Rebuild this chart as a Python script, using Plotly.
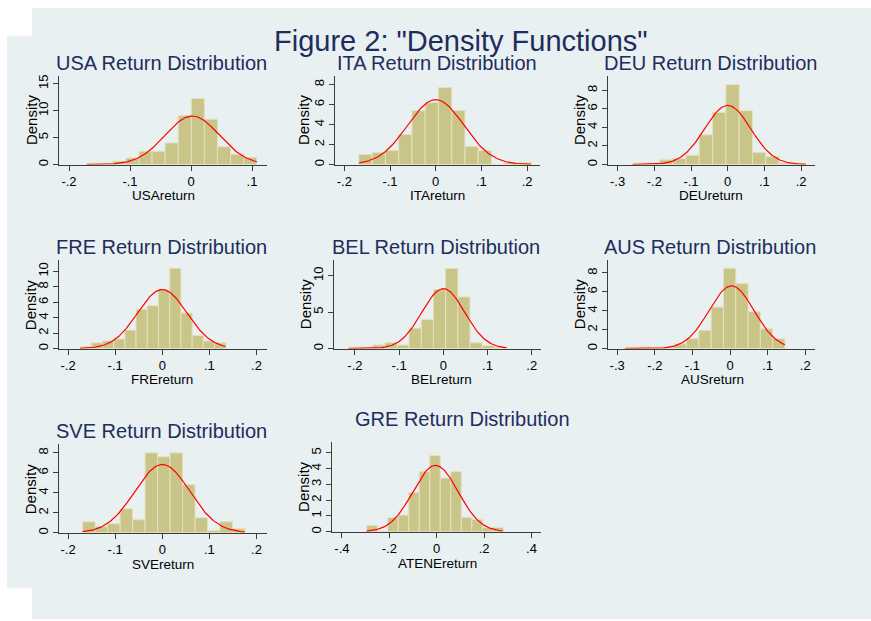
import numpy as np
import plotly.graph_objects as go

# ---------------- data ----------------
usa_heights = [0.25, 0.25, 0.6, 1.2, 2.45, 2.45, 4.0, 9.1, 12.25, 8.4, 3.3, 1.9, 1.35]
usa_bin_start, usa_bin_width = -0.171, 0.02144
usa_mean, usa_sd, usa_lo, usa_hi = 0.002, 0.0443, -0.171, 0.108

ita_heights = [1.0, 1.2, 1.4, 3.0, 5.4, 6.2, 7.7, 5.4, 1.8, 1.4, 0.0, 0.2, 0.2]
ita_bin_start, ita_bin_width = -0.168, 0.0290
ita_mean, ita_sd, ita_lo, ita_hi = 0.0, 0.0614, -0.168, 0.209

deu_heights = [0.15, 0.15, 0.5, 0.65, 1.0, 3.2, 5.6, 8.6, 5.8, 1.3, 0.85, 0.15, 0.15]
deu_bin_start, deu_bin_width = -0.259, 0.0363
deu_mean, deu_sd, deu_lo, deu_hi = 0.0, 0.0627, -0.259, 0.213

fre_heights = [0.23, 0.75, 1.0, 1.25, 2.4, 5.1, 5.55, 7.6, 10.4, 4.6, 1.7, 1.0, 0.75]
fre_bin_start, fre_bin_width = -0.1747, 0.0238
fre_mean, fre_sd, fre_lo, fre_hi = 0.0, 0.0522, -0.1747, 0.1347

bel_heights = [0.2, 0.2, 0.5, 0.8, 0.5, 2.8, 4.0, 8.1, 11.0, 7.1, 0.8, 0.4, 0.2]
bel_bin_start, bel_bin_width = -0.215, 0.02754
bel_mean, bel_sd, bel_lo, bel_hi = 0.0, 0.0485, -0.215, 0.143

aus_heights = [0.15, 0.15, 0.0, 0.15, 0.5, 1.05, 1.93, 4.4, 8.5, 6.9, 3.9, 2.1, 1.05]
aus_bin_start, aus_bin_width = -0.279, 0.0327
aus_mean, aus_sd, aus_lo, aus_hi = 0.004, 0.0602, -0.279, 0.146

sve_heights = [1.1, 0.6, 0.9, 2.4, 1.3, 8.0, 7.6, 8.0, 4.8, 1.5, 0.2, 1.1, 0.4]
sve_bin_start, sve_bin_width = -0.169, 0.0265
sve_mean, sve_sd, sve_lo, sve_hi = 0.0, 0.0584, -0.169, 0.175

gre_heights = [0.4, 0.0, 0.9, 1.05, 2.48, 3.8, 4.83, 3.4, 3.8, 0.9, 0.78, 0.27, 0.27]
gre_bin_start, gre_bin_width = -0.295, 0.0443
gre_mean, gre_sd, gre_lo, gre_hi = -0.005, 0.095, -0.295, 0.28

titles = ["USA Return Distribution", "ITA Return Distribution", "DEU Return Distribution",
          "FRE Return Distribution", "BEL Return Distribution", "AUS Return Distribution",
          "SVE Return Distribution", "GRE Return Distribution"]
xtitles = ["USAreturn", "ITAreturn", "DEUreturn", "FREreturn", "BELreturn", "AUSreturn",
           "SVEreturn", "ATENEreturn"]

xt_usa = [-0.2, -0.1, 0, 0.1]
xl_usa = ["-.2", "-.1", "0", ".1"]
xt_std = [-0.2, -0.1, 0, 0.1, 0.2]
xl_std = ["-.2", "-.1", "0", ".1", ".2"]
xt_wide = [-0.3, -0.2, -0.1, 0, 0.1, 0.2]
xl_wide = ["-.3", "-.2", "-.1", "0", ".1", ".2"]
xt_gre = [-0.4, -0.2, 0, 0.2, 0.4]
xl_gre = ["-.4", "-.2", "0", ".2", ".4"]

yt_usa = [0, 5, 10, 15]
yt_8 = [0, 2, 4, 6, 8]
yt_fre = [0, 2, 4, 6, 8, 10]
yt_bel = [0, 5, 10]
yt_gre = [0, 1, 2, 3, 4, 5]

main_title = 'Figure 2: "Density Functions"'

# ---------------- layout helpers ----------------
W, H = 871, 621
FONT = "Liberation Sans, Arial, sans-serif"
TITLE_COLOR = "#1e2d5c"
BAR_COLOR = "#c9c589"
BAR_LINE = "#e4e1bd"
BG = "#e8f0f2"


def px(x):
    return x / W


def py(y):
    return 1 - y / H


# position info per panel: plot-area pixels (left, right, top, bottom),
# title centre, Density label x, x-title centre
panels = [
    dict(h=usa_heights, b0=usa_bin_start, bw=usa_bin_width, m=usa_mean, s=usa_sd, lo=usa_lo, hi=usa_hi,
         box=(59, 267, 75, 164.3), x0px=191, ppu=610, xt=xt_usa, xl=xl_usa, yt=yt_usa, ymax=16.5,
         tc=(161, 62), dx=31, xtc=163),
    dict(h=ita_heights, b0=ita_bin_start, bw=ita_bin_width, m=ita_mean, s=ita_sd, lo=ita_lo, hi=ita_hi,
         box=(335, 540, 75, 164.3), x0px=435.7, ppu=457, xt=xt_std, xl=xl_std, yt=yt_8, ymax=8.9,
         tc=(437.5, 62), dx=303, xtc=437.5),
    dict(h=deu_heights, b0=deu_bin_start, bw=deu_bin_width, m=deu_mean, s=deu_sd, lo=deu_lo, hi=deu_hi,
         box=(608.3, 815, 75, 164.3), x0px=727.7, ppu=367, xt=xt_wide, xl=xl_wide, yt=yt_8, ymax=9.57,
         tc=(710, 62), dx=579, xtc=711),
    dict(h=fre_heights, b0=fre_bin_start, bw=fre_bin_width, m=fre_mean, s=fre_sd, lo=fre_lo, hi=fre_hi,
         box=(59.3, 266.7, 260, 349.3), x0px=162.3, ppu=471, xt=xt_std, xl=xl_std, yt=yt_fre, ymax=11.5,
         tc=(161, 247), dx=30, xtc=162),
    dict(h=bel_heights, b0=bel_bin_start, bw=bel_bin_width, m=bel_mean, s=bel_sd, lo=bel_lo, hi=bel_hi,
         box=(334, 540.7, 260, 349.3), x0px=443.3, ppu=442, xt=xt_std, xl=xl_std, yt=yt_bel, ymax=12.2,
         tc=(436, 247), dx=305, xtc=441),
    dict(h=aus_heights, b0=aus_bin_start, bw=aus_bin_width, m=aus_mean, s=aus_sd, lo=aus_lo, hi=aus_hi,
         box=(608.3, 815, 260, 349.3), x0px=730, ppu=376, xt=xt_wide, xl=xl_wide, yt=yt_8, ymax=9.4,
         tc=(710, 247), dx=579, xtc=712),
    dict(h=sve_heights, b0=sve_bin_start, bw=sve_bin_width, m=sve_mean, s=sve_sd, lo=sve_lo, hi=sve_hi,
         box=(59.3, 266.7, 445, 534.3), x0px=162.3, ppu=471, xt=xt_std, xl=xl_std, yt=yt_8, ymax=8.9,
         tc=(161, 432), dx=30, xtc=163),
    dict(h=gre_heights, b0=gre_bin_start, bw=gre_bin_width, m=gre_mean, s=gre_sd, lo=gre_lo, hi=gre_hi,
         box=(332.3, 540.7, 443.3, 533.3), x0px=436.7, ppu=237, xt=xt_gre, xl=xl_gre, yt=yt_gre, ymax=5.67,
         tc=(462, 420), dx=304, xtc=437),
]

fig = go.Figure()
annotations = []
layout_axes = {}

for i, p in enumerate(panels, start=1):
    xa = "x" if i == 1 else f"x{i}"
    ya = "y" if i == 1 else f"y{i}"
    n = len(p["h"])
    centers = [p["b0"] + (k + 0.5) * p["bw"] for k in range(n)]
    fig.add_trace(go.Bar(x=centers, y=p["h"], width=[p["bw"]] * n, xaxis=xa, yaxis=ya,
                         marker=dict(color=BAR_COLOR, line=dict(color=BAR_LINE, width=1)),
                         showlegend=False, hoverinfo="x+y"))
    xs = np.linspace(p["lo"], p["hi"], 200)
    ys = np.exp(-0.5 * ((xs - p["m"]) / p["s"]) ** 2) / (p["s"] * np.sqrt(2 * np.pi))
    fig.add_trace(go.Scatter(x=xs, y=ys, mode="lines", xaxis=xa, yaxis=ya,
                             line=dict(color="#ff0000", width=1.2), showlegend=False,
                             hoverinfo="skip"))

    l, r, t, b = p["box"]
    xmin = -(p["x0px"] - l) / p["ppu"]
    xmax = (r - p["x0px"]) / p["ppu"]
    xkey = "xaxis" if i == 1 else f"xaxis{i}"
    ykey = "yaxis" if i == 1 else f"yaxis{i}"
    layout_axes[xkey] = dict(domain=[px(l), px(r)], range=[xmin, xmax], anchor=ya,
                             tickvals=p["xt"], ticktext=p["xl"], showgrid=False, zeroline=False,
                             showline=True, linecolor="#3c3c3c", linewidth=1,
                             ticks="outside", ticklen=5, tickcolor="#3c3c3c",
                             tickfont=dict(family=FONT, size=13, color="#000000"),
                             fixedrange=True)
    layout_axes[ykey] = dict(domain=[py(b), py(t)], range=[0, p["ymax"]], anchor=xa,
                             tickvals=p["yt"], ticktext=[str(v) for v in p["yt"]],
                             tickangle=-90, showgrid=True, gridcolor="#e6eef0", gridwidth=1,
                             zeroline=False, showline=True, linecolor="#3c3c3c", linewidth=1,
                             ticks="outside", ticklen=5, tickcolor="#3c3c3c",
                             tickfont=dict(family=FONT, size=13, color="#000000"),
                             fixedrange=True)

    annotations.append(dict(text=titles[i - 1], x=px(p["tc"][0]), y=py(p["tc"][1]),
                            xref="paper", yref="paper", showarrow=False,
                            xanchor="center", yanchor="middle",
                            font=dict(family=FONT, size=20, color=TITLE_COLOR)))
    annotations.append(dict(text="Density", x=px(p["dx"]), y=py((t + b) / 2),
                            xref="paper", yref="paper", showarrow=False, textangle=-90,
                            xanchor="center", yanchor="middle",
                            font=dict(family=FONT, size=15, color="#000000")))
    annotations.append(dict(text=xtitles[i - 1], x=px(p["xtc"]), y=py(b + 31.5),
                            xref="paper", yref="paper", showarrow=False,
                            xanchor="center", yanchor="middle",
                            font=dict(family=FONT, size=13.5, color="#000000")))

annotations.append(dict(text=main_title, x=px(461), y=py(40), xref="paper", yref="paper",
                        showarrow=False, xanchor="center", yanchor="middle",
                        font=dict(family=FONT, size=29, color=TITLE_COLOR)))

shapes = [
    dict(type="rect", xref="paper", yref="paper", x0=px(32), x1=1, y0=0, y1=py(7),
         fillcolor=BG, line=dict(width=0), layer="below"),
    dict(type="rect", xref="paper", yref="paper", x0=px(7), x1=1, y0=py(590), y1=py(35),
         fillcolor=BG, line=dict(width=0), layer="below"),
]

fig.update_layout(width=W, height=H, margin=dict(l=0, r=0, t=0, b=0), autosize=False,
                  paper_bgcolor="#ffffff", plot_bgcolor="#ffffff", barmode="overlay",
                  annotations=annotations, shapes=shapes, showlegend=False,
                  font=dict(family=FONT), **layout_axes)

fig.write_html("out.html", config={"displayModeBar": False},
               post_script="document.body.style.margin='0';document.body.style.overflow='hidden';")
